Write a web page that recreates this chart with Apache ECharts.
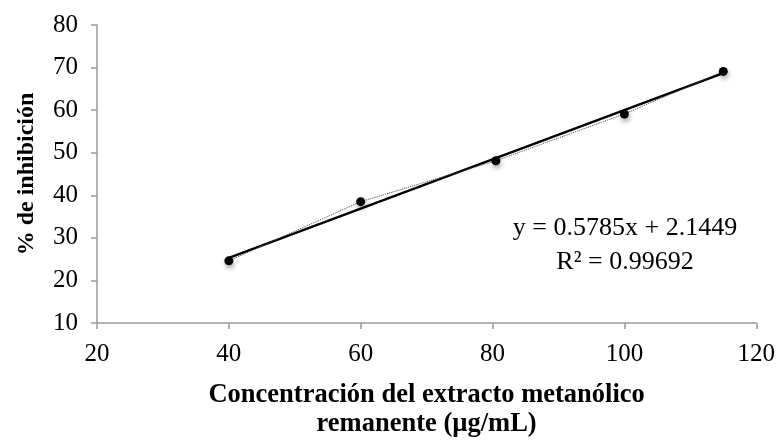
<!DOCTYPE html>
<html>
<head>
<meta charset="utf-8">
<script src="https://cdn.jsdelivr.net/npm/echarts@6/dist/echarts.min.js"></script>
<style>html,body{margin:0;padding:0;background:#fff}#c{width:778px;height:444px}</style>
</head>
<body>
<div id="c"></div>
<script>
var concentracion = [40, 60, 80.5, 100, 115];
var inhibicion = [24.6, 38.5, 48.1, 59.1, 69.1];
var trendX = [40, 115];
var trendY = [25.3, 68.7];
var xTicks = [20, 40, 60, 80, 100, 120];
var yTicks = [10, 20, 30, 40, 50, 60, 70, 80];
var equationText = 'y = 0.5785x + 2.1449';
var r2Text = 'R² = 0.99692';
var xTitle = 'Concentración del extracto metanólico\nremanente (µg/mL)';
var yTitle = '% de inhibición';

var FONT = 'Liberation Serif';
var chart = echarts.init(document.getElementById('c'));
var pts = concentracion.map(function (x, i) { return [x, inhibicion[i]]; });
var trend = trendX.map(function (x, i) { return [x, trendY[i]]; });

chart.setOption({
  animation: false,
  grid: { left: 97, right: 21, top: 25, bottom: 117 },
  xAxis: {
    type: 'value', min: xTicks[0], max: xTicks[xTicks.length - 1], interval: 20,
    name: xTitle, nameLocation: 'middle', nameGap: 58,
    nameTextStyle: { fontFamily: FONT, fontSize: 26.5, fontWeight: 'bold', color: '#000', lineHeight: 29 },
    axisLine: { lineStyle: { color: '#999', width: 1.5 } },
    axisTick: { show: true, inside: false, length: 6, lineStyle: { color: '#999', width: 1.5 } },
    axisLabel: { fontFamily: FONT, fontSize: 25, color: '#000', margin: 19 },
    splitLine: { show: false }
  },
  yAxis: {
    type: 'value', min: yTicks[0], max: yTicks[yTicks.length - 1], interval: 10,
    name: yTitle, nameLocation: 'middle', nameGap: 58, nameRotate: 90,
    nameTextStyle: { fontFamily: FONT, fontSize: 24, fontWeight: 'bold', color: '#000' },
    axisLine: { show: true, lineStyle: { color: '#999', width: 1.5 } },
    axisTick: { show: true, inside: false, length: 6, lineStyle: { color: '#999', width: 1.5 } },
    axisLabel: { fontFamily: FONT, fontSize: 25, color: '#000', margin: 19 },
    splitLine: { show: false }
  },
  series: [
    {
      type: 'line', data: trend, symbol: 'none', z: 3,
      lineStyle: { color: '#000', width: 2.4 }
    },
    {
      type: 'line', data: pts, symbol: 'circle', symbolSize: 9, z: 4,
      lineStyle: { color: '#444', width: 1, type: 'dotted' },
      itemStyle: { color: '#000', shadowColor: 'rgba(0,0,0,0.35)', shadowBlur: 5, shadowOffsetX: 1, shadowOffsetY: 3 }
    }
  ],
  graphic: [
    { type: 'text', x: 625, y: 228, style: { text: equationText, font: '26px "Liberation Serif"', fill: '#000', align: 'center', verticalAlign: 'middle' } },
    { type: 'text', x: 625, y: 262, style: { text: r2Text, font: '26px "Liberation Serif"', fill: '#000', align: 'center', verticalAlign: 'middle' } }
  ]
});
</script>
</body>
</html>
